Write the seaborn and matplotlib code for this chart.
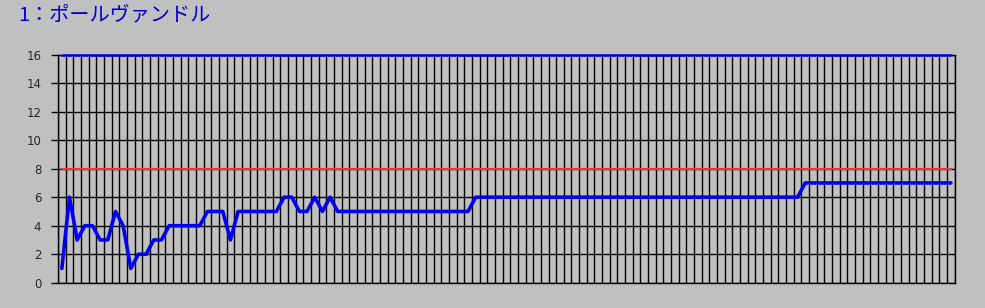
import matplotlib
matplotlib.use("Agg")
import matplotlib.pyplot as plt
import seaborn as sns
import pandas as pd
import numpy as np

# ---- data ----
title = "1：ポールヴァンドル"
values = ([1, 6, 3, 4, 4, 3, 3, 5, 4, 1, 2, 2, 3, 3, 4, 4, 4, 4, 4, 5,
           5, 5, 3, 5, 5, 5, 5, 5, 5, 6, 6, 5, 5, 6, 5, 6]
          + [5] * 18 + [6] * 43 + [7] * 20)
categories = list(range(1, len(values) + 1))
upper_level = 16
target_level = 8
y_ticks = [0, 2, 4, 6, 8, 10, 12, 14, 16]

df = pd.DataFrame({
    "cat": categories,
    "value": values,
    "upper": [upper_level] * len(categories),
    "target": [target_level] * len(categories),
})

bg = "#c0c0c0"
sns.set_theme(style="white", rc={"figure.facecolor": bg, "axes.facecolor": bg})
plt.rcParams["font.family"] = ["Noto Sans CJK JP", "DejaVu Sans"]

fig = plt.figure(figsize=(9.85, 3.08), dpi=100)
ax = fig.add_axes([58 / 985, 1 - 282.7 / 308, (954.7 - 58) / 985, (282.7 - 54.7) / 308])

x = df["cat"] - 1
sns.lineplot(x=x, y=df["target"], ax=ax, color="#e83a3a", linewidth=1.6, zorder=3)
sns.lineplot(x=x, y=df["upper"], ax=ax, color="#0000ee", linewidth=1.8, zorder=5,
             clip_on=False)
sns.lineplot(x=x, y=df["value"], ax=ax, color="#0000ee", linewidth=2.6, zorder=4)

n = len(categories)
ax.set_xlim(-0.5, n - 0.5)
ax.set_ylim(0, 16)
ax.set_xticks(np.arange(n + 1) - 0.5)
ax.set_xticklabels([])
ax.set_yticks(y_ticks)
ax.set_yticklabels([str(v) for v in y_ticks], fontsize=8.5, family=["DejaVu Sans"])
ax.tick_params(axis="x", length=0)
ax.tick_params(axis="y", length=5, width=1, color="black", pad=7, left=True)
ax.grid(True, color="black", linewidth=1)
ax.set_axisbelow(True)
for s in ax.spines.values():
    s.set_color("black")
    s.set_linewidth(1)
    s.set_visible(True)
ax.set_xlabel("")
ax.set_ylabel("")

fig.text(18 / 985, 1 - 15 / 308, title, color="#0000cc", fontsize=14.5,
         ha="left", va="center")

fig.savefig("out.png", dpi=100, facecolor=bg)
